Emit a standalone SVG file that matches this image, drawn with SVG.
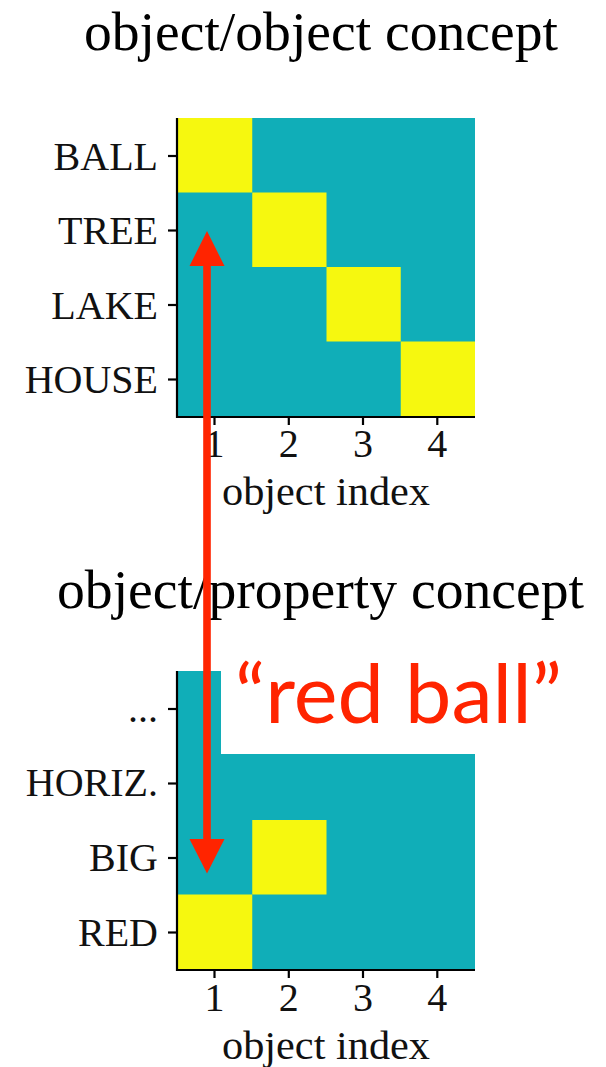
<svg xmlns="http://www.w3.org/2000/svg" width="606" height="1067" viewBox="0 0 606 1067">
  <style>
    .title { font-family: "Liberation Serif", "Times New Roman", serif; font-size: 55px; fill: #000; text-anchor: middle; }
    .ylab { font-family: "Liberation Serif", "Times New Roman", serif; font-size: 40px; fill: #111; text-anchor: end; }
    .xlab { font-family: "Liberation Serif", "Times New Roman", serif; font-size: 40px; fill: #111; text-anchor: middle; }
    .teal { fill: #10aeb8; }
    .yel { fill: #f6f80f; }
    .spine { stroke: #000; stroke-width: 2.2; fill: none; }
    .tick { stroke: #000; stroke-width: 2.2; }
    .red { fill: #ff2400; }
  </style>
  <rect x="0" y="0" width="606" height="1067" fill="#fff"/>

  <g id="title-top">
    <text class="title" x="321" y="50" textLength="474" lengthAdjust="spacingAndGlyphs">object/object concept</text>
  </g>

  <g id="matrix-top">
    <rect class="teal" x="178" y="118" width="297" height="298"/>
    <rect class="yel" x="178" y="118" width="74.25" height="74.5"/>
    <rect class="yel" x="252.25" y="192.5" width="74.25" height="74.5"/>
    <rect class="yel" x="326.5" y="267" width="74.25" height="74.5"/>
    <rect class="yel" x="400.75" y="341.5" width="74.25" height="74.5"/>
    <path class="spine" d="M177 118 V417 H475"/>
    <g class="tick">
      <line x1="168" y1="156" x2="177" y2="156"/>
      <line x1="168" y1="230.5" x2="177" y2="230.5"/>
      <line x1="168" y1="305" x2="177" y2="305"/>
      <line x1="168" y1="379.5" x2="177" y2="379.5"/>
      <line x1="214.5" y1="417" x2="214.5" y2="425"/>
      <line x1="288.8" y1="417" x2="288.8" y2="425"/>
      <line x1="363" y1="417" x2="363" y2="425"/>
      <line x1="437.3" y1="417" x2="437.3" y2="425"/>
    </g>
    <text class="ylab" x="158" y="169.5">BALL</text>
    <text class="ylab" x="158" y="244">TREE</text>
    <text class="ylab" x="158" y="318.5">LAKE</text>
    <text class="ylab" x="158" y="393">HOUSE</text>
    <text class="xlab" x="214.5" y="456.5">1</text>
    <text class="xlab" x="288.8" y="456.5">2</text>
    <text class="xlab" x="363" y="456.5">3</text>
    <text class="xlab" x="437.3" y="456.5">4</text>
    <text class="xlab" x="326" y="505" textLength="208" lengthAdjust="spacingAndGlyphs">object index</text>
  </g>

  <g id="title-bottom">
    <text class="title" x="320.5" y="608" textLength="527" lengthAdjust="spacingAndGlyphs">object/property concept</text>
  </g>

  <g id="matrix-bottom">
    <rect class="teal" x="178" y="671" width="297" height="298"/>
    <rect class="yel" x="252.25" y="820" width="74.25" height="74.5"/>
    <rect class="yel" x="178" y="894.5" width="74.25" height="74.5"/>
    <path class="spine" d="M177 671 V970 H475"/>
    <g class="tick">
      <line x1="168" y1="709" x2="177" y2="709"/>
      <line x1="168" y1="783.5" x2="177" y2="783.5"/>
      <line x1="168" y1="858" x2="177" y2="858"/>
      <line x1="168" y1="932.5" x2="177" y2="932.5"/>
      <line x1="214.5" y1="970" x2="214.5" y2="978"/>
      <line x1="288.8" y1="970" x2="288.8" y2="978"/>
      <line x1="363" y1="970" x2="363" y2="978"/>
      <line x1="437.3" y1="970" x2="437.3" y2="978"/>
    </g>
    <text class="ylab" x="158" y="722">...</text>
    <text class="ylab" x="158" y="796">HORIZ.</text>
    <text class="ylab" x="158" y="871">BIG</text>
    <text class="ylab" x="158" y="946">RED</text>
    <text class="xlab" x="214.5" y="1011">1</text>
    <text class="xlab" x="288.8" y="1011">2</text>
    <text class="xlab" x="363" y="1011">3</text>
    <text class="xlab" x="437.3" y="1011">4</text>
    <text class="xlab" x="326" y="1059" textLength="208" lengthAdjust="spacingAndGlyphs">object index</text>
  </g>

  <g id="label-red-ball">
    <rect x="221" y="650" width="385" height="104" fill="#fff"/>
    <text x="235" y="723" font-family="Lato, 'Open Sans', sans-serif" font-size="82" class="red" textLength="327" lengthAdjust="spacingAndGlyphs">“red ball”</text>
  </g>

  <g id="connectors">
    <rect class="red" x="203.2" y="264" width="7.6" height="577"/>
    <polygon class="red" points="207,231 224.5,266 189.5,266"/>
    <polygon class="red" points="207,873.5 224.5,839 189.5,839"/>
  </g>
</svg>
